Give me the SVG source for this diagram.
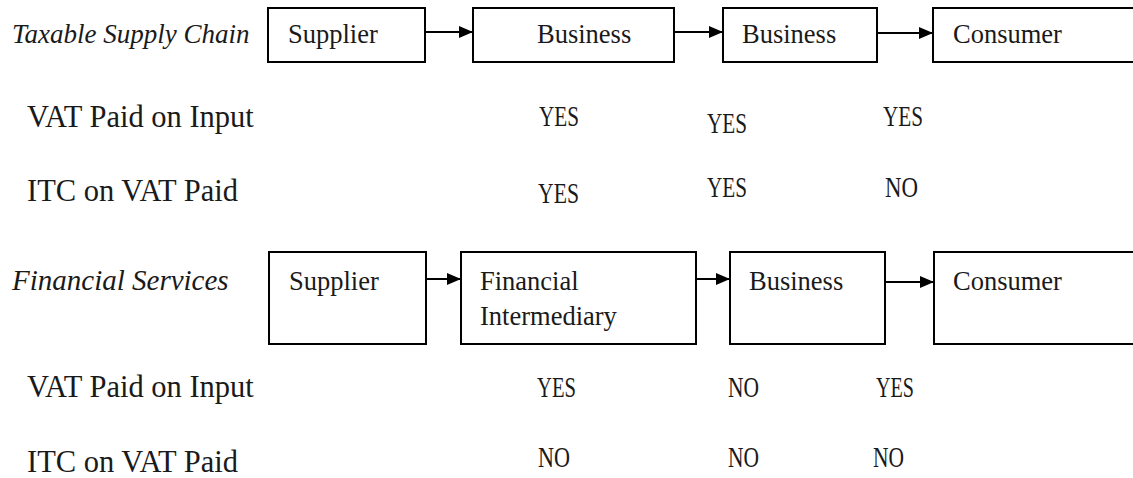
<svg xmlns="http://www.w3.org/2000/svg" width="1133" height="478" viewBox="0 0 1133 478">
  <style>
    text { font-family: "Liberation Serif", "Times New Roman", serif; fill: #1a1a1a; }
    .head { font-style: italic; }
    .row { font-size: 30.5px; }
    .box-text { font-size: 26.5px; }
    .ans { font-size: 30px; }
    .box { fill: #ffffff; stroke: #000000; stroke-width: 2; }
    .link { stroke: #000000; stroke-width: 2; fill: none; marker-end: url(#arrow); }
  </style>
  <defs>
    <marker id="arrow" markerUnits="userSpaceOnUse" markerWidth="14" markerHeight="12" refX="14" refY="6" orient="auto">
      <path d="M0,0 L14,6 L0,12 Z" fill="#000000"/>
    </marker>
  </defs>
  <rect width="1133" height="478" fill="#ffffff"/>

  <!-- Taxable supply chain -->
  <text class="head" x="12" y="43" font-size="27">Taxable Supply Chain</text>
  <g id="t-supplier"><rect class="box" x="268" y="8" width="157" height="54"/><text class="box-text" x="288" y="43">Supplier</text></g>
  <g id="t-business1"><rect class="box" x="473" y="8" width="201" height="54"/><text class="box-text" x="537" y="43">Business</text></g>
  <g id="t-business2"><rect class="box" x="723" y="8" width="154" height="54"/><text class="box-text" x="742" y="43">Business</text></g>
  <g id="t-consumer"><rect class="box" x="933" y="8" width="210" height="54"/><text class="box-text" x="953" y="43">Consumer</text></g>

  <text class="row" x="27" y="127">VAT Paid on Input</text>
  <text class="row" x="27" y="201">ITC on VAT Paid</text>
  <text class="ans" x="539" y="126" textLength="40" lengthAdjust="spacingAndGlyphs">YES</text>
  <text class="ans" x="707" y="133" textLength="40" lengthAdjust="spacingAndGlyphs">YES</text>
  <text class="ans" x="883" y="126" textLength="40" lengthAdjust="spacingAndGlyphs">YES</text>
  <text class="ans" x="538" y="203" textLength="41" lengthAdjust="spacingAndGlyphs">YES</text>
  <text class="ans" x="707" y="197" textLength="40" lengthAdjust="spacingAndGlyphs">YES</text>
  <text class="ans" x="885" y="197" textLength="33" lengthAdjust="spacingAndGlyphs">NO</text>

  <!-- Financial services -->
  <text class="head" x="12" y="290" font-size="29">Financial Services</text>
  <g id="f-supplier"><rect class="box" x="269" y="252" width="157" height="92"/><text class="box-text" x="289" y="290">Supplier</text></g>
  <g id="f-intermediary"><rect class="box" x="461" y="252" width="235" height="92"/><text class="box-text" x="480" y="290">Financial</text><text class="box-text" x="480" y="325">Intermediary</text></g>
  <g id="f-business"><rect class="box" x="730" y="252" width="155" height="92"/><text class="box-text" x="749" y="290">Business</text></g>
  <g id="f-consumer"><rect class="box" x="934" y="252" width="210" height="92"/><text class="box-text" x="953" y="290">Consumer</text></g>

  <text class="row" x="27" y="397">VAT Paid on Input</text>
  <text class="row" x="27" y="472">ITC on VAT Paid</text>
  <text class="ans" x="537" y="397" textLength="39" lengthAdjust="spacingAndGlyphs">YES</text>
  <text class="ans" x="728" y="397" textLength="31" lengthAdjust="spacingAndGlyphs">NO</text>
  <text class="ans" x="876" y="397" textLength="38" lengthAdjust="spacingAndGlyphs">YES</text>
  <text class="ans" x="538" y="467" textLength="32" lengthAdjust="spacingAndGlyphs">NO</text>
  <text class="ans" x="728" y="467" textLength="31" lengthAdjust="spacingAndGlyphs">NO</text>
  <text class="ans" x="873" y="467" textLength="31" lengthAdjust="spacingAndGlyphs">NO</text>

  <g id="connectors">
    <line class="link" x1="425" y1="32" x2="473" y2="32"/>
    <line class="link" x1="674" y1="32" x2="723" y2="32"/>
    <line class="link" x1="877" y1="33" x2="933" y2="33"/>
    <line class="link" x1="426" y1="279" x2="461" y2="279"/>
    <line class="link" x1="696" y1="279" x2="730" y2="279"/>
    <line class="link" x1="885" y1="282" x2="934" y2="282"/>
  </g>
</svg>
